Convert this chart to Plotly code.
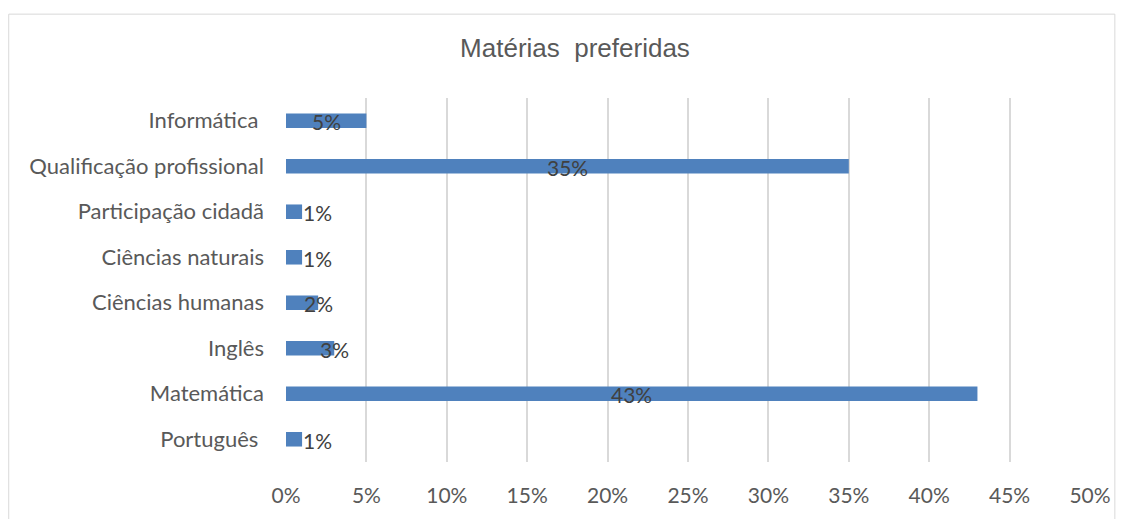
import plotly.graph_objects as go

categories = ["Português", "Matemática", "Inglês", "Ciências humanas",
              "Ciências naturais", "Participação cidadã",
              "Qualificação profissional", "Informática"]
values = [1, 43, 3, 2, 1, 1, 35, 5]
tick_vals = [0, 5, 10, 15, 20, 25, 30, 35, 40, 45, 50]
tick_text = [f"{t}%" for t in tick_vals]
title_text = "Matérias\u00a0\u00a0preferidas"
# trailing spaces as in the source labels
category_text = [c + "\u00a0" if c in ("Português", "Informática") else c for c in categories]

FONT = "Lato, Carlito, Calibri, sans-serif"
GRAY = "#595959"

fig = go.Figure()
fig.add_trace(go.Bar(
    y=categories, x=values, orientation="h",
    marker=dict(color="#4f81bd", line=dict(width=0)),
    hoverinfo="skip",
))

annotations = []
for c, v in zip(categories, values):
    if v >= 5:
        xa, anchor = v / 2, "center"
    elif v >= 2:
        xa, anchor = v, "center"
    else:
        xa, anchor = v, "left"
    annotations.append(dict(
        x=xa, y=c, xref="x", yref="y", text=f"{v}%", showarrow=False,
        xanchor=anchor, yanchor="middle", yshift=-1,
        font=dict(family=FONT, size=21, color="#404040"),
        borderpad=0,
    ))

fig.update_layout(
    width=1123, height=519,
    margin=dict(l=286, r=28, t=98, b=52),
    paper_bgcolor="white", plot_bgcolor="white",
    bargap=0.68,
    showlegend=False,
    title=dict(text=title_text, x=0.512, xanchor="center", y=0.907, yanchor="middle",
               font=dict(family="Liberation Sans, Arial, sans-serif", size=26, color=GRAY)),
    xaxis=dict(range=[0, 50], tickvals=tick_vals, ticktext=tick_text,
               showgrid=True, gridcolor="#d9d9d9", gridwidth=1.5,
               zeroline=False, showline=False, ticks="",
               tickfont=dict(family=FONT, size=21, color=GRAY), ticklabelstandoff=19),
    yaxis=dict(categoryorder="array", categoryarray=categories,
               tickvals=categories, ticktext=category_text,
               showgrid=False, zeroline=False, showline=False, ticks="",
               tickfont=dict(family=FONT, size=22, color=GRAY), ticklabelstandoff=21),
    annotations=annotations,
    shapes=[dict(type="rect", xref="paper", yref="paper",
                 x0=-279 / 809, x1=(1120 - 286) / 809,
                 y0=(519 - 52 - 530) / 369, y1=(467 - 13) / 369,
                 line=dict(color="#d9d9d9", width=1), fillcolor="rgba(0,0,0,0)",
                 layer="below")],
)

fig.write_html("out.html")
